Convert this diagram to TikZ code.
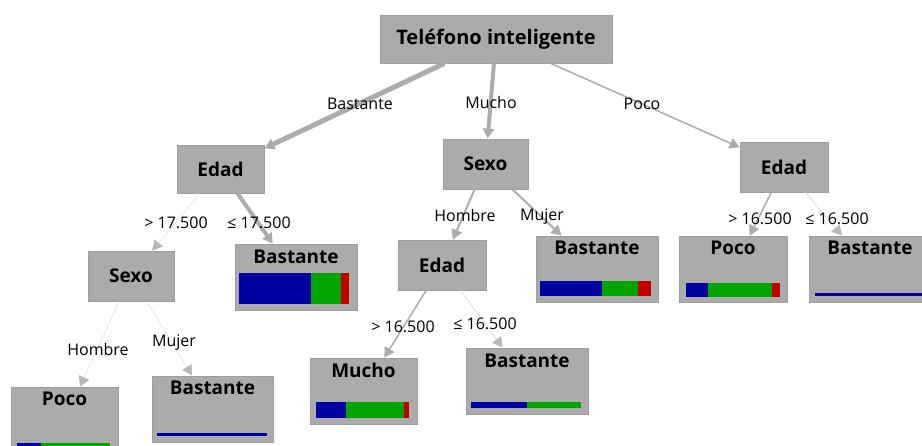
\documentclass[tikz,border=0pt]{standalone}
\usepackage{fontspec}
\setmainfont{Open Sans}
\usepackage{xcolor}
\usetikzlibrary{arrows.meta}

\definecolor{caja}{RGB}{171,171,171}
\definecolor{borde}{RGB}{158,158,158}
\definecolor{azul}{RGB}{0,0,160}
\definecolor{verde}{RGB}{0,165,0}
\definecolor{rojo}{RGB}{195,0,0}
\definecolor{flecha}{RGB}{172,172,172}
\definecolor{tenue}{RGB}{225,225,225}

\begin{document}
\begin{tikzpicture}[x=1pt,y=-1pt,
  caja/.style={draw=borde, fill=caja, line width=0.8pt, inner sep=0pt,
    font=\fontsize{19}{22}\selectfont\bfseries},
  tit/.style={inner sep=0pt, font=\fontsize{19}{22}\selectfont\bfseries},
  etq/.style={inner sep=0pt, font=\fontsize{16}{19}\selectfont},
  rama/.style={draw=flecha, line width=#1,
    -{Triangle[length=10pt,width=11pt]}},
  ramat/.style={draw=tenue, line width=#1,
    -{Triangle[length=10pt,width=11pt,color=flecha!85]}}]
\useasboundingbox (0,0) rectangle (922,445);
\clip (0,0) rectangle (922,445);

% Raiz
\node[caja, minimum width=232, minimum height=48] (raiz) at (496,39)
  {\fontsize{20}{24}\selectfont Teléfono inteligente};

% Primer nivel
\node[caja, minimum width=87, minimum height=48] (edadI) at (220.5,169) {Edad};
\node[caja, minimum width=85, minimum height=50] (sexoC) at (485.5,164) {Sexo};
\node[caja, minimum width=88, minimum height=50] (edadD) at (784,167) {Edad};

% Segundo nivel
\node[caja, minimum width=86, minimum height=50] (sexoI) at (131,276) {Sexo};
\node[caja, minimum width=122, minimum height=66] (bastI) at (296,277) {};
\node[tit] (bastIt) at (296,257) {Bastante};
\node[caja, minimum width=88, minimum height=50] (edadC) at (442,265) {Edad};
\node[caja, minimum width=122, minimum height=66] (bastC) at (597,269) {};
\node[tit] (bastCt) at (597,248) {Bastante};
\node[caja, minimum width=108, minimum height=66] (pocoD) at (733,269) {};
\node[tit] (pocoDt) at (733,248) {Poco};
\node[caja, minimum width=122, minimum height=66] (bastD) at (870,269) {};
\node[tit] (bastDt) at (870,248) {Bastante};

% Tercer nivel
\node[caja, minimum width=107, minimum height=66] (pocoI) at (64.5,420) {};
\node[tit] (pocoIt) at (64.5,399) {Poco};
\node[caja, minimum width=121, minimum height=66] (bastII) at (212.5,409) {};
\node[tit] (bastIIt) at (212.5,388) {Bastante};
\node[caja, minimum width=107, minimum height=66] (mucho) at (363.5,391) {};
\node[tit] (muchot) at (363.5,370) {Mucho};
\node[caja, minimum width=122, minimum height=66] (bastCC) at (527,381) {};
\node[tit] (bastCCt) at (527,361) {Bastante};

% Barras
\fill[azul] (239,273) rectangle (311,304);
\fill[verde] (311,273) rectangle (341,304);
\fill[rojo] (341,273) rectangle (349,304);

\fill[azul] (540,281) rectangle (602,296);
\fill[verde] (602,281) rectangle (638,296);
\fill[rojo] (638,281) rectangle (651,296);

\fill[azul] (686,283) rectangle (708,297);
\fill[verde] (708,283) rectangle (772,297);
\fill[rojo] (772,283) rectangle (780,297);

\fill[azul] (815,293) rectangle (930,296);

\fill[azul] (17,443) rectangle (41,460);
\fill[verde] (41,443) rectangle (110,460);

\fill[azul] (157,433) rectangle (267,436);

\fill[azul] (316,402) rectangle (346,418);
\fill[verde] (346,402) rectangle (404,418);
\fill[rojo] (404,402) rectangle (409,418);

\fill[azul] (471,402) rectangle (527,408);
\fill[verde] (527,402) rectangle (581,408);

% Ramas
\draw[rama=5pt] (raiz) -- (edadI);
\draw[rama=4pt] (raiz) -- (sexoC);
\draw[rama=1.5pt] (raiz) -- (edadD);
\draw[ramat=0.6pt] (edadI) -- (sexoI);
\draw[rama=4pt] (edadI) -- (bastI);
\draw[rama=2pt] (sexoC) -- (edadC);
\draw[rama=2pt] (sexoC) -- (bastC);
\draw[rama=1.5pt] (edadD) -- (pocoD);
\draw[ramat=1pt] (edadD) -- (bastD);
\draw[ramat=0.6pt] (sexoI) -- (pocoI);
\draw[ramat=0.6pt] (sexoI) -- (bastII);
\draw[rama=1.5pt] (edadC) -- (mucho);
\draw[ramat=1pt] (edadC) -- (bastCC);

% Etiquetas
\node[etq] (e1) at (360,104) {Bastante};
\node[etq] (e2) at (491,102) {Mucho};
\node[etq] (e3) at (642,104) {Poco};
\node[etq] (e4) at (176,223) {> 17.500};
\node[etq] (e5) at (259,223) {≤ 17.500};
\node[etq] (e6) at (465,215) {Hombre};
\node[etq] (e7) at (542,217) {Mujer};
\node[etq] (e8) at (760,219) {> 16.500};
\node[etq] (e9) at (837,219) {≤ 16.500};
\node[etq] (e10) at (98,349) {Hombre};
\node[etq] (e11) at (174,343) {Mujer};
\node[etq] (e12) at (403,327) {> 16.500};
\node[etq] (e13) at (485,324) {≤ 16.500};

\end{tikzpicture}
\end{document}
